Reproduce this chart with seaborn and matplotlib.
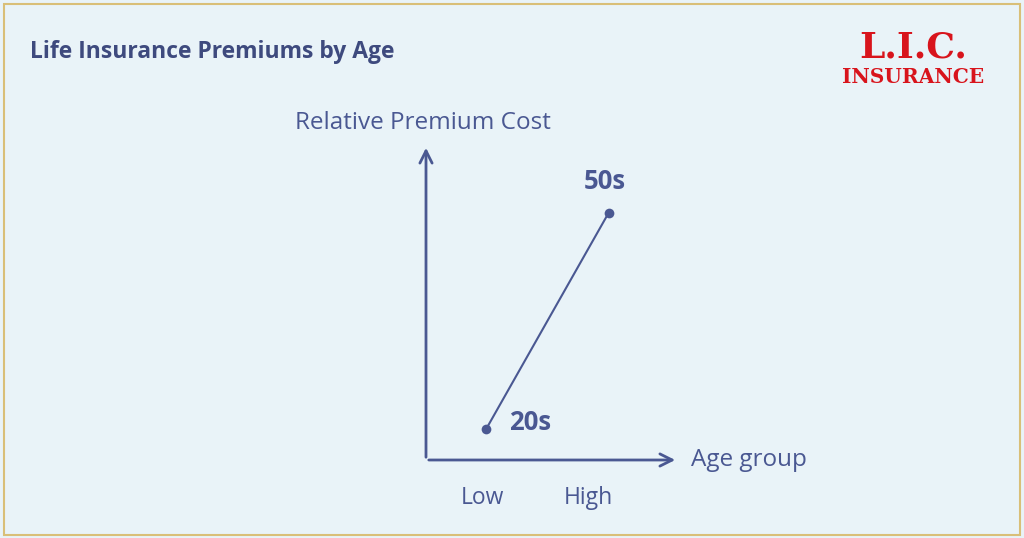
import matplotlib
matplotlib.use("Agg")
import matplotlib.pyplot as plt
import seaborn as sns
import pandas as pd
from matplotlib.patches import Rectangle

ages = ["20s", "50s"]
age_pos = [2.4, 7.25]
premium = [1.0, 7.85]
tick_labels = ["Low", "High"]
tick_pos = [2.25, 6.45]

sns.set_theme(style="white")
plt.rcParams['font.family'] = ['Open Sans', 'DejaVu Sans']
navy = "#4a5892"
fig = plt.figure(figsize=(10.24, 5.38), dpi=100)
fig.patch.set_facecolor("#e9f3f8")
fig.patches.append(Rectangle((0.004, 0.006), 0.992, 0.986, transform=fig.transFigure,
                             fill=False, edgecolor="#d9bf78", linewidth=1.5))
fig.text(30/1024, 1-52/538, "Life Insurance Premiums by Age", fontsize=16.5, fontweight="bold",
         color="#3e4a7e", va="center")
fig.text(913/1024, 1-47/538, "L.I.C.", fontsize=26, color="#d8141c", family="DejaVu Serif",
         fontweight="bold", ha="center", va="center")
fig.text(913/1024, 1-77/538, "INSURANCE", fontsize=14.5, color="#d8141c", family="DejaVu Serif",
         fontweight="bold", ha="center", va="center")

ax = fig.add_axes([426/1024, 78/538, 252/1024, 315/538])
ax.set_facecolor("none")
df = pd.DataFrame({"x": age_pos, "y": premium, "age": ages})
sns.lineplot(data=df, x="x", y="y", ax=ax, color=navy, linewidth=1.5, marker="o",
             markersize=7, markeredgewidth=0)
ax.set_xlim(0, 10); ax.set_ylim(0, 10)
for s in ax.spines.values():
    s.set_visible(False)
ax.set_xticks([]); ax.set_yticks([])
ax.set_xlabel(""); ax.set_ylabel("")
ax.annotate("", xy=(10, 0), xytext=(0, 0), arrowprops=dict(arrowstyle="->", color=navy, lw=2,
            mutation_scale=22), annotation_clip=False)
ax.annotate("", xy=(0, 10), xytext=(0, 0), arrowprops=dict(arrowstyle="->", color=navy, lw=2,
            mutation_scale=22), annotation_clip=False)
ax.text(age_pos[0] + 0.9, premium[0] + 0.2, ages[0], fontsize=18.5, fontweight="bold", color=navy, va="center")
ax.text(age_pos[1] - 1.0, premium[1] + 1.0, ages[1], fontsize=18.5, fontweight="bold", color=navy, va="center")
for lbl, p in zip(tick_labels, tick_pos):
    ax.text(p, -1.2, lbl, fontsize=16.5, color=navy, ha="center", va="center", clip_on=False)
ax.text(10.5, 0, "Age group", fontsize=17.5, color=navy, va="center", clip_on=False)
ax.text(-5.2, 10.7, "Relative Premium Cost", fontsize=17.5, color=navy, va="center", clip_on=False)
fig.savefig("out.png", dpi=100, facecolor=fig.get_facecolor())
